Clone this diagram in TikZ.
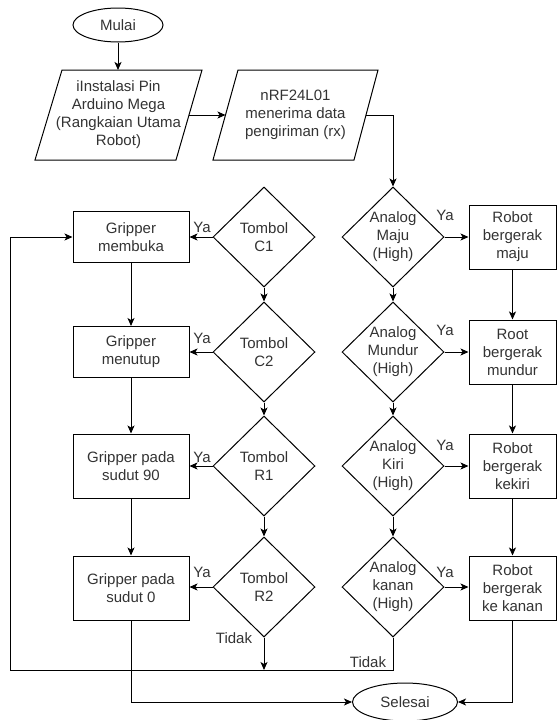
\documentclass[tikz,border=0pt]{standalone}
\usepackage{fontspec}
\setmainfont{Liberation Sans}
\usetikzlibrary{shapes.geometric,arrows.meta}
\begin{document}
\begin{tikzpicture}[x=1pt,y=-1pt,
  every node/.style={font=\fontsize{15}{18}\selectfont, text=black!80},
  line/.style={line width=1pt},
  arr/.style={line, -{Stealth[length=8pt,width=7pt,inset=2pt]}},
  box/.style={draw, line width=1pt, rectangle, align=center, inner sep=0pt, minimum width=#1},
  box/.default=87pt,
  dia/.style={draw, line width=1pt, diamond, minimum width=102pt, minimum height=100pt, inner sep=0pt},
  term/.style={draw, line width=1pt, ellipse, inner sep=0pt},
  txt/.style={align=center, inner sep=0pt},
  lbl/.style={inner sep=0pt}
]
\useasboundingbox (0,0) rectangle (557,720);

% terminals
\node[term, minimum width=90pt, minimum height=34pt] (start) at (118,25) {Mulai};
\node[term, minimum width=105pt, minimum height=38pt] (end) at (405,702) {Selesai};

% parallelograms
\coordinate (p1a) at (35,160); \coordinate (p1b) at (62,70);
\coordinate (p1c) at (202,70); \coordinate (p1d) at (176,160);
\draw[line] (p1a) -- (p1b) -- (p1c) -- (p1d) -- cycle;
\node[txt] (p1) at (118.5,115) {iInstalasi Pin\\Arduino Mega\\(Rangkaian Utama\\Robot)};
\coordinate (p1n) at (118,70);
\coordinate (p1e) at (189,115);

\coordinate (p2a) at (213,160); \coordinate (p2b) at (238,70);
\coordinate (p2c) at (378,70); \coordinate (p2d) at (354,160);
\draw[line] (p2a) -- (p2b) -- (p2c) -- (p2d) -- cycle;
\node[txt] (p2) at (295.5,115) {nRF24L01\\menerima data\\pengiriman (rx)};
\coordinate (p2w) at (225.5,115);
\coordinate (p2e) at (366,115);

% analog diamonds
\node[dia] (am) at (393,237) {};  \node[txt] (amt) at (am) {Analog\\Maju\\(High)};
\node[dia] (amu) at (393,352) {}; \node[txt] (amut) at (amu) {Analog\\Mundur\\(High)};
\node[dia] (aki) at (393,466) {}; \node[txt] (akit) at (aki) {Analog\\Kiri\\(High)};
\node[dia] (aka) at (393,587) {}; \node[txt] (akat) at (aka) {Analog\\kanan\\(High)};

% tombol diamonds
\node[dia] (tc1) at (264,237) {}; \node[txt] (tc1t) at (tc1) {Tombol\\C1};
\node[dia] (tc2) at (264,352) {}; \node[txt] (tc2t) at (tc2) {Tombol\\C2};
\node[dia] (tr1) at (264,466) {}; \node[txt] (tr1t) at (tr1) {Tombol\\R1};
\node[dia] (tr2) at (264,587) {}; \node[txt] (tr2t) at (tr2) {Tombol\\R2};

% robot boxes
\node[box, minimum height=64pt] (rb1) at (512.5,237) {Robot\\bergerak\\maju};
\node[box, minimum height=64pt] (rb2) at (512.5,352) {Root\\bergerak\\mundur};
\node[box, minimum height=64pt] (rb3) at (512.5,466) {Robot\\bergerak\\kekiri};
\node[box, minimum height=64pt] (rb4) at (512.5,588) {Robot\\bergerak\\ke kanan};

% gripper boxes
\node[box=116pt, minimum height=51pt] (g1) at (131,237) {Gripper\\membuka};
\node[box=116pt, minimum height=51pt] (g2) at (131,352) {Gripper\\menutup};
\node[box=116pt, minimum height=64pt] (g3) at (131,466) {Gripper pada\\sudut 90};
\node[box=116pt, minimum height=64pt] (g4) at (131,588) {Gripper pada\\sudut 0};

\coordinate (loopc) at (10,670);

% connectors
\draw[arr] (start.south) -- (p1n);
\draw[arr] (p1e) -- (p2w);
\draw[arr] (p2e) -| (am.north);

\draw[arr] (am.south) -- (amu.north);
\draw[arr] (amu.south) -- (aki.north);
\draw[arr] (aki.south) -- (aka.north);
\draw[arr] (am.east) -- (am.east -| rb1.west);
\draw[arr] (amu.east) -- (amu.east -| rb2.west);
\draw[arr] (aki.east) -- (aki.east -| rb3.west);
\draw[arr] (aka.east) -- (aka.east -| rb4.west);
\draw[arr] (rb1.south) -- (rb2.north);
\draw[arr] (rb2.south) -- (rb3.north);
\draw[arr] (rb3.south) -- (rb4.north);
\draw[arr] (rb4.south) |- (end.east);

\draw[arr] (tc1.south) -- (tc2.north);
\draw[arr] (tc2.south) -- (tr1.north);
\draw[arr] (tr1.south) -- (tr2.north);
\draw[arr] (tc1.west) -- (tc1.west -| g1.east);
\draw[arr] (tc2.west) -- (tc2.west -| g2.east);
\draw[arr] (tr1.west) -- (tr1.west -| g3.east);
\draw[arr] (tr2.west) -- (tr2.west -| g4.east);
\draw[arr] (tr2.south) -- (tr2.south |- loopc);

\draw[arr] (g1.south) -- (g2.north);
\draw[arr] (g2.south) -- (g3.north);
\draw[arr] (g3.south) -- (g4.north);
\draw[arr] (g4.south) |- (end.west);

\draw[arr] (aka.south) |- (loopc) |- (g1.west);

% labels
\node[lbl] (ya1) at (445,215) {Ya};
\node[lbl] (ya2) at (445,330) {Ya};
\node[lbl] (ya3) at (445,445) {Ya};
\node[lbl] (ya4) at (445,572) {Ya};
\node[lbl] (ya5) at (202,227) {Ya};
\node[lbl] (ya6) at (202,338) {Ya};
\node[lbl] (ya7) at (202,457) {Ya};
\node[lbl] (ya8) at (202,572) {Ya};
\node[lbl] (td1) at (234,638) {Tidak};
\node[lbl] (td2) at (368,662) {Tidak};
\end{tikzpicture}
\end{document}
